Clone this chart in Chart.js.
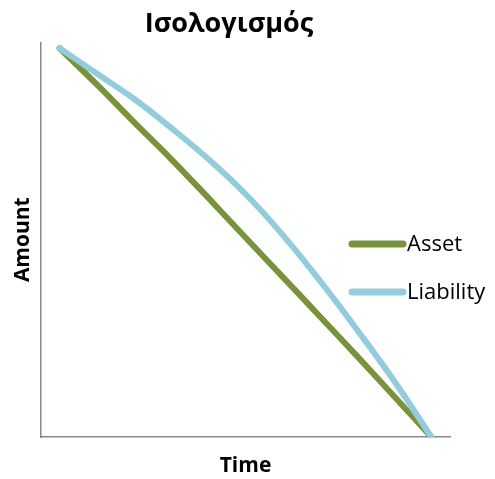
<!DOCTYPE html>
<html>
<head>
<meta charset="utf-8">
<script src="https://cdn.jsdelivr.net/npm/chart.js@4.4.1/dist/chart.umd.min.js"></script>
<style>
  html, body { margin: 0; padding: 0; background: #fff; }
  #wrap { width: 495px; height: 479px; }
</style>
</head>
<body>
<div id="wrap"><canvas id="balance"></canvas></div>
<script>
const periods = ['1', '2', '3', '4', '5', '6', '7', '8', '9', '10', '11']
const asset = [100, 90.7, 81, 71.5, 61.5, 51.3, 41.2, 31, 20.8, 10.4, 0]
const liability = [100, 93.5, 87, 79.5, 71.5, 62.5, 52, 40.2, 27.6, 14.4, 0]

const FONT = '"Open Sans", "Liberation Sans", sans-serif'

// legend drawn inside the plot, like the spreadsheet one
const sideLegend = {
    id: 'sideLegend',
    afterLayout(chart) {
        // title sits a bit left of the canvas middle
        const t = chart.titleBlock
        t.left = 0
        t.right = 458
    },
    afterDraw(chart) {
        const ctx = chart.ctx
        const rows = [244, 292]
        ctx.save()
        ctx.font = '22px ' + FONT
        ctx.textBaseline = 'middle'
        ctx.fillStyle = '#000'
        ctx.lineCap = 'round'
        chart.data.datasets.forEach((ds, i) => {
            const y = rows[i]
            ctx.strokeStyle = ds.borderColor
            ctx.lineWidth = 7
            ctx.beginPath()
            ctx.moveTo(352, y)
            ctx.lineTo(403, y)
            ctx.stroke()
            ctx.fillText(ds.label, 407, y + 1)
        })
        ctx.restore()
    }
}

window.addEventListener('DOMContentLoaded', () => {
    const ctx = document.getElementById('balance')
    new Chart(ctx, {
        type: 'line',
        data: {
            labels: periods,
            datasets: [{
                label: 'Asset',
                data: asset,
                borderColor: '#77933C',
                order: 1,
            }, {
                label: 'Liability',
                data: liability,
                borderColor: '#93CDDD',
                order: 0,
            }]
        },
        options: {
            responsive: true,
            maintainAspectRatio: false,
            animation: false,
            layout: { padding: { left: 0, right: 45, top: 0, bottom: 0 } },
            elements: {
                line: {
                    borderWidth: 6,
                    tension: 0.4,
                    borderCapStyle: 'round',
                    borderJoinStyle: 'round',
                    fill: false
                },
                point: { radius: 0, hoverRadius: 0 }
            },
            scales: {
                x: {
                    offset: true,
                    grid: { display: false },
                    border: { display: true, color: '#888', width: 1.5 },
                    ticks: { display: false },
                    title: {
                        display: true,
                        text: 'Time',
                        color: '#000',
                        font: { family: FONT, size: 21, weight: 'bold' },
                        padding: { top: 0, bottom: 0 }
                    },
                    afterFit(scale) { scale.height = 42 }
                },
                y: {
                    min: 0,
                    max: 101.5,
                    grid: { display: false },
                    border: { display: true, color: '#888', width: 1.5 },
                    ticks: { display: false },
                    title: {
                        display: true,
                        text: 'Amount',
                        color: '#000',
                        font: { family: FONT, size: 21, weight: 'bold' },
                        padding: { top: 10, bottom: 0 }
                    },
                    afterFit(scale) { scale.width = 41 }
                }
            },
            plugins: {
                legend: { display: false },
                tooltip: { enabled: false },
                title: {
                    display: true,
                    text: 'Ισολογισμός',
                    color: '#000',
                    font: { family: FONT, size: 27, weight: 'bold' },
                    padding: { top: 8, bottom: 2 }
                }
            }
        },
        plugins: [sideLegend]
    })
})
</script>
</body>
</html>
